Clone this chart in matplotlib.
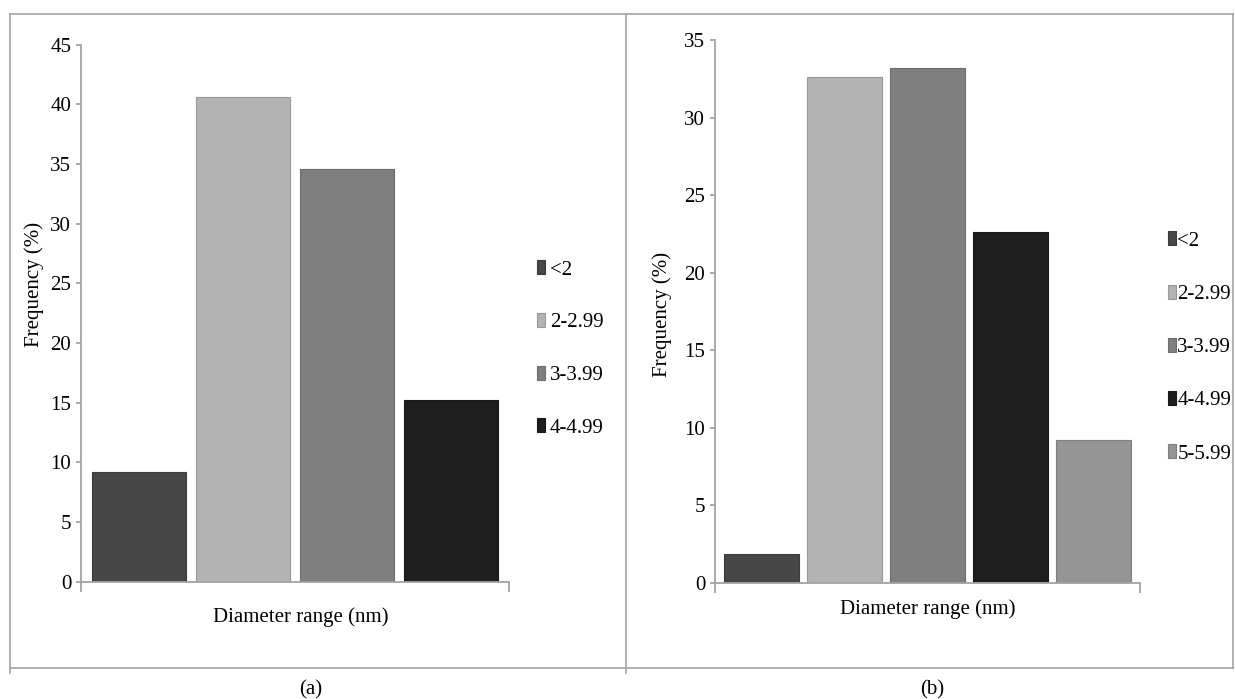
import matplotlib
matplotlib.use("Agg")
import matplotlib.pyplot as plt
import matplotlib.colors as mcolors
from matplotlib.lines import Line2D

plt.rcParams['font.family'] = ['Liberation Serif', 'DejaVu Serif']

# datos
rangos_a = ['<2', '2-2.99', '3-3.99', '4-4.99']
frecuencia_a = [9.2, 40.6, 34.6, 15.2]
rangos_b = ['<2', '2-2.99', '3-3.99', '4-4.99', '5-5.99']
frecuencia_b = [1.9, 32.6, 33.2, 22.6, 9.2]
colores = ['#474747', '#b3b3b3', '#7f7f7f', '#1e1e1e', '#959595']

W, H = 1235, 699
GRIS = '#a3a3a3'


def caja(l, t, r, b):
    # pixeles -> fraccion de figura
    return [l / W, 1 - b / H, (r - l) / W, (b - t) / H]


def oscurecer(c, f=0.85):
    r, g, b = mcolors.to_rgb(c)
    return (r * f, g * f, b * f)


def dibujar(ax, rangos, valores, ymax, ylab_xy, xlab_xy, leg_xy, sep, pad):
    n = len(valores)
    for i in range(n):
        ax.bar(i, valores[i], width=0.9, color=colores[i],
               edgecolor=oscurecer(colores[i]), linewidth=0.8, label=rangos[i])
    ax.set_xlim(-0.56, n - 0.44)
    ax.set_ylim(0, ymax)
    ax.set_yticks(range(0, ymax + 1, 5))
    ax.set_xticks([-0.56, n - 0.44])
    ax.set_xticklabels([])
    for s in ['top', 'right']:
        ax.spines[s].set_visible(False)
    for s in ['left', 'bottom']:
        ax.spines[s].set_color(GRIS)
        ax.spines[s].set_linewidth(1.3)
    ax.tick_params(axis='y', direction='out', length=3.5, width=1.3, color=GRIS,
                   labelsize=15, pad=3.5)
    ax.tick_params(axis='x', direction='out', length=7, width=1.3, color=GRIS)
    ax.set_ylabel('Frequency (%)', fontsize=15, va='center')
    ax.yaxis.set_label_coords(*ylab_xy)
    ax.set_xlabel('Diameter range (nm)', fontsize=15, va='center')
    ax.xaxis.set_label_coords(*xlab_xy)
    ax.legend(loc='center left', bbox_to_anchor=leg_xy, bbox_transform=fig.transFigure,
              frameon=False, fontsize=15, handlelength=0.4, handleheight=0.65,
              handletextpad=pad, labelspacing=sep, borderpad=0, borderaxespad=0)


fig = plt.figure(figsize=(W / 100, H / 100), dpi=100)

ax1 = fig.add_axes(caja(81, 44.7, 509, 581.7))
dibujar(ax1, rangos_a, frecuencia_a, 45,
        (-0.11, 0.554), (0.514, -0.066), (537 / W, 1 - 349 / H), 1.6, 0.22)

ax2 = fig.add_axes(caja(715, 40, 1140, 583))
dibujar(ax2, rangos_b, frecuencia_b, 35,
        (-0.125, 0.494), (0.501, -0.048), (1168 / W, 1 - 347.5 / H), 1.63, 0.05)

# marco exterior de la figura
def linea(x0, y0, x1, y1):
    fig.add_artist(Line2D([x0 / W, x1 / W], [1 - y0 / H, 1 - y1 / H],
                          transform=fig.transFigure, color=GRIS, linewidth=1.2))

linea(10, 14, 1233, 14)
linea(10, 668, 1233, 668)
linea(10, 14, 10, 673)
linea(1233, 14, 1233, 668)
linea(626, 14, 626, 673)

fig.text(311 / W, 1 - 690 / H, '(a)', fontsize=15, ha='center', va='center')
fig.text(932 / W, 1 - 690 / H, '(b)', fontsize=15, ha='center', va='center')

fig.savefig('out.png', dpi=100, facecolor='white')
